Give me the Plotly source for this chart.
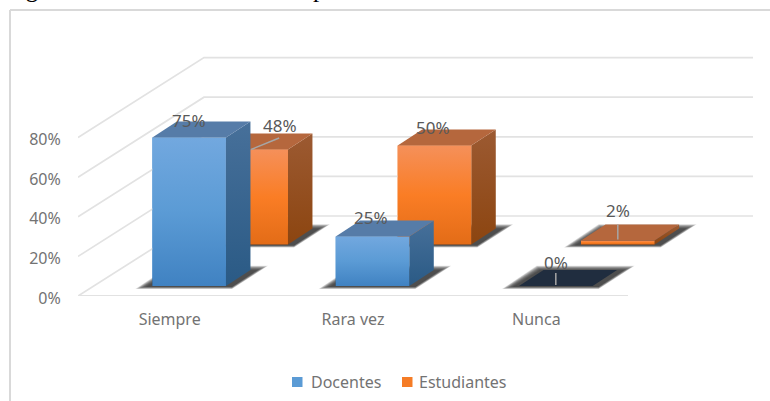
import plotly.graph_objects as go

categories = ["Siempre", "Rara vez", "Nunca"]
docentes = [75, 25, 0]
estudiantes = [48, 50, 2]
y_ticks = [0, 20, 40, 60, 80]

FONT = "Noto Sans"
GREY = "#737373"
PX_CAT = 183.33
PX_PCT = 1.98
W, H = 770, 401
L_M, R_M, T_M, B_M = 78, 17, 56, 105
GRID = "#e2e2e2"


def ux(px):
    return px / PX_CAT


def uy(px):
    return px / PX_PCT


BAR_W = ux(73.6)
DEPTH_X, DEPTH_Y = ux(24.5), uy(16)
WALL_X, WALL_Y = ux(126), uy(80)
X_MIN, X_MAX = -0.5, 3.182
Y_MAX = uy(H - B_M - T_M)

fig = go.Figure()


def poly(xs, ys, fill=None, grad=None, start=None, stop=None):
    kw = dict(fillcolor=fill) if fill else dict(
        fillgradient=dict(type="vertical", colorscale=grad, start=start, stop=stop)
    )
    fig.add_trace(go.Scatter(x=xs + xs[:1], y=ys + ys[:1], mode="lines", fill="toself",
                             line=dict(width=0, color="rgba(0,0,0,0)"), hoverinfo="skip",
                             showlegend=False, **kw))


def line(xs, ys, color=GRID, width=1.7):
    fig.add_trace(go.Scatter(x=xs, y=ys, mode="lines", line=dict(color=color, width=width),
                             hoverinfo="skip", showlegend=False))


# wall and floor rules
for v in y_ticks:
    line([X_MIN, X_MIN + WALL_X, X_MAX], [v, v + WALL_Y, v + WALL_Y])
line([X_MIN, X_MIN + ux(550)], [0, 0], width=2)

series = [
    dict(name="Estudiantes", values=estudiantes, offset=ux(44.7), base=uy(51.5), color="#f57c26",
         front=[[0, "#e36c17"], [0.5, "#fa7d25"], [1, "#f5905a"]],
         side=[[0, "#8c4510"], [1, "#9c5a32"]], top="#b5673d", zero_top="#b5673d",
         leader=[29, 0, 0], label_dx=[29, -1, 0], label_dy=[-24, -18, -30]),
    dict(name="Docentes", values=docentes, offset=ux(-17.3), base=uy(10), color="#5b9bd5",
         front=[[0, "#4082c2"], [0.5, "#5b9bd5"], [1, "#72a8df"]],
         side=[[0, "#2a5a85"], [1, "#47709a"]], top="#567ca8", zero_top="#202d3f",
         leader=[0, 0, 0], label_dx=[0, -1, 0], label_dy=[-17.5, -19, -23.5]),
]

for s in series:
    # soft cast shadows on the floor
    for e in [8, 7, 6, 5, 4, 3, 2, 1, 0, -1, -2, -3]:
        for i, v in enumerate(s["values"]):
            left = i + s["offset"]
            grow = max(e, 0) * 0.25
            xs = [left - ux(9 + e), left + ux(20 - e * 0.3), left + BAR_W + ux(34 + e), left + BAR_W + ux(6)]
            ys = [s["base"] - uy(1 + grow), s["base"] + uy(17 + e * 0.4), s["base"] + uy(17 + e * 0.4),
                  s["base"] - uy(1 + grow)]
            poly(xs, ys, fill="rgba(35,35,35,0.13)")
    # front faces through the bar trace
    fig.add_trace(go.Bar(x=[0, 1, 2], y=s["values"], base=s["base"], width=BAR_W, offset=s["offset"],
                         name=s["name"], marker=dict(color=s["color"], line=dict(width=0)),
                         hoverinfo="skip", showlegend=False))
    for i, v in enumerate(s["values"]):
        left = i + s["offset"]
        right = left + BAR_W
        low, high = s["base"], s["base"] + v
        if v > 0:
            poly([right, right + DEPTH_X, right + DEPTH_X, right],
                 [low, low + DEPTH_Y, high + DEPTH_Y, high], grad=s["side"], start=low, stop=high + DEPTH_Y)
            poly([left, right, right, left], [low, low, high, high], grad=s["front"], start=low, stop=high)
        poly([left, right, right + DEPTH_X, left + DEPTH_X],
             [high, high, high + DEPTH_Y, high + DEPTH_Y],
             fill=s["top"] if v > 0 else s["zero_top"])

annotations = []
for s in series:
    for i, v in enumerate(s["values"]):
        cx = i + s["offset"] + BAR_W / 2
        top = s["base"] + v
        if s["leader"][i]:
            line([cx, cx + ux(s["leader"][i] - 1)], [top, top + uy(11.5)], color="#a6a6a6", width=1.5)
        elif v <= 2:
            line([cx, cx], [top + uy(1), top + uy(16 if v else 13)], color="#a6a6a6", width=1.5)
        annotations.append(dict(x=cx, y=top, xref="x", yref="y", text=f"{v}%", showarrow=False,
                                xshift=s["label_dx"][i], yshift=-s["label_dy"][i],
                                font=dict(family=FONT, size=17, color="#595959")))


def px_x(p):
    return (p - L_M) / (W - L_M - R_M)


def px_y(p):
    return (H - B_M - p) / (H - T_M - B_M)


for txt, p in [("Figura", 3), ("p", 311)]:
    annotations.append(dict(x=px_x(p), y=px_y(4), xref="paper", yref="paper", xanchor="left", yanchor="bottom",
                            text=txt, showarrow=False, font=dict(family="Liberation Serif", size=25, color="#000000")))

# legend, laid out to match the reference
shapes = [
    dict(type="line", xref="paper", yref="paper", x0=px_x(10), x1=px_x(10), y0=px_y(10), y1=px_y(401),
         line=dict(color="#d9d9d9", width=2)),
    dict(type="line", xref="paper", yref="paper", x0=px_x(10), x1=px_x(770), y0=px_y(10), y1=px_y(10),
         line=dict(color="#d9d9d9", width=2)),
]
for s, box_x, text_x in [(series[1], 292, 309), (series[0], 402, 417)]:
    shapes.append(dict(type="rect", xref="paper", yref="paper", x0=px_x(box_x), x1=px_x(box_x + 10.5),
                       y0=px_y(377), y1=px_y(387), fillcolor=s["color"], line=dict(width=0)))
    annotations.append(dict(x=px_x(text_x), y=px_y(382), xref="paper", yref="paper", xanchor="left",
                            yanchor="middle", text=s["name"], showarrow=False,
                            font=dict(family=FONT, size=16, color=GREY)))

fig.update_layout(
    width=W, height=H, margin=dict(l=L_M, r=R_M, t=T_M, b=B_M, pad=0, autoexpand=False),
    paper_bgcolor="white", plot_bgcolor="rgba(0,0,0,0)", barmode="overlay",
    font=dict(family=FONT, size=16, color=GREY),
    xaxis=dict(range=[X_MIN, X_MAX], tickvals=[0, 1, 2], ticktext=categories, showgrid=False, zeroline=False,
               showline=False, ticks="outside", ticklen=9, tickcolor="rgba(0,0,0,0)", tickfont=dict(size=16, color=GREY)),
    yaxis=dict(range=[0, Y_MAX], tickvals=y_ticks, ticktext=[f"{v}%" for v in y_ticks], showgrid=False,
               zeroline=False, showline=False, ticks="outside", ticklen=13, tickcolor="rgba(0,0,0,0)",
               ticklabelshift=2, tickfont=dict(size=16, color=GREY)),
    annotations=annotations, shapes=shapes, showlegend=False,
)

fig.write_html("out.html", config=dict(displayModeBar=False),
               post_script="document.body.style.margin='0';")
